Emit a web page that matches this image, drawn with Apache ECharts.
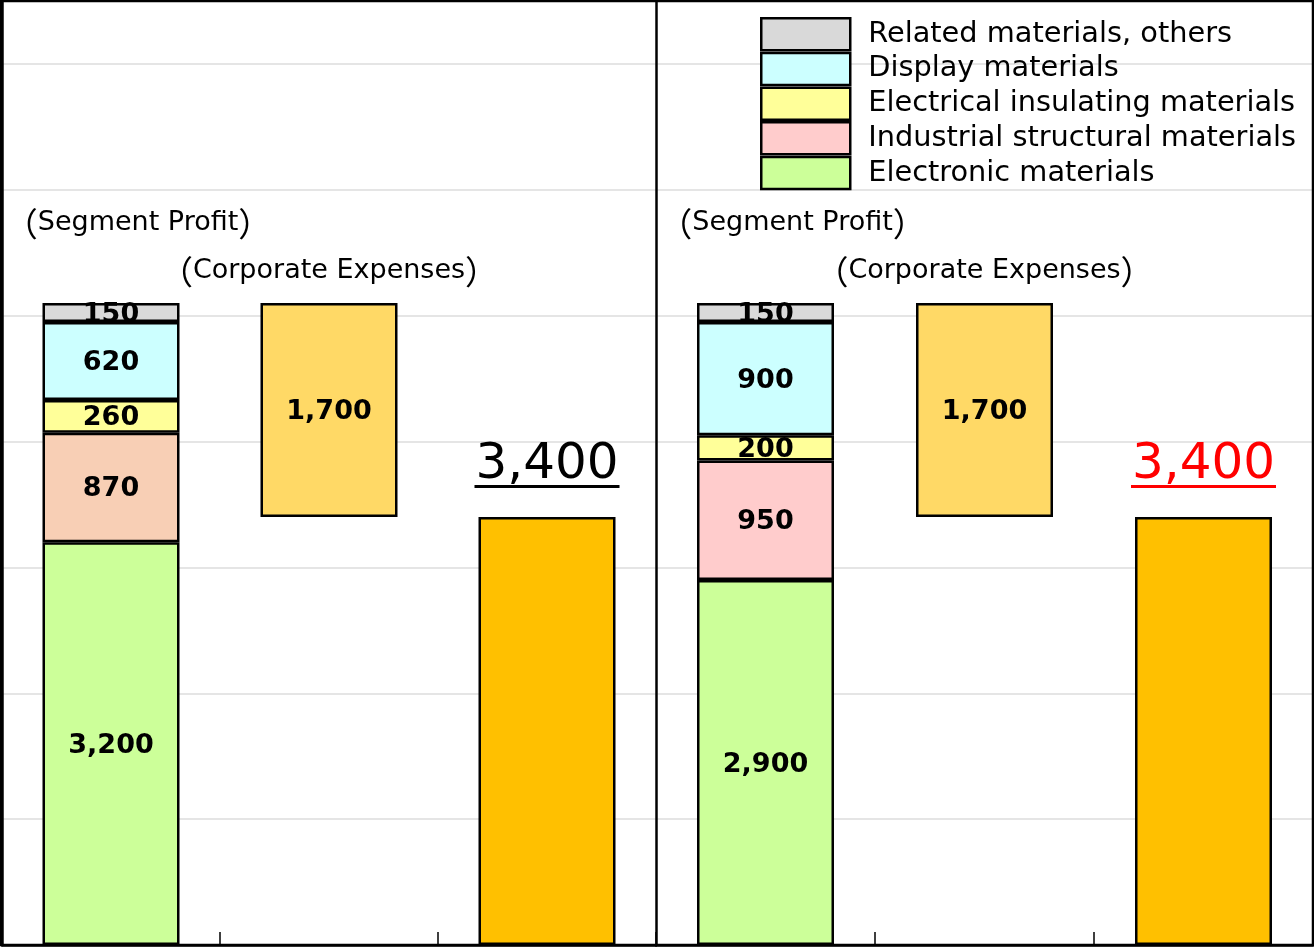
<!DOCTYPE html>
<html><head><meta charset="utf-8">
<script src="https://cdn.jsdelivr.net/npm/echarts@6/dist/echarts.min.js"></script>
<style>html,body{margin:0;padding:0;background:#fff}#c{width:1314px;height:947px}</style>
</head><body><div id="c"></div>
<script>
// ---- data ----
const categories = ['Segment Profit', 'Corporate Expenses', 'Operating Income'];
const segmentNames = ['Electronic materials', 'Industrial structural materials', 'Electrical insulating materials', 'Display materials', 'Related materials, others'];
const leftSegments = [3200, 870, 260, 620, 150];
const rightSegments = [2900, 950, 200, 900, 150];
const corporateExpenses = [1700, 1700];
const totals = [3400, 3400];
const segmentTitle = 'Segment Profit';
const corporateTitle = 'Corporate Expenses';
const yMax = 7500, yInterval = 1000;

// ---- styles ----
const segColors = ['#ccff99', '#ffcccc', '#ffff99', '#ccffff', '#d9d9d9'];
const leftIndustrialColor = '#f8cfb5';
const corpColor = '#ffd966';
const totalColor = '#ffc000';
const totalTextColors = ['#000000', '#ff0000'];
const FONT = "'DejaVu Sans', sans-serif";
const CJK = "'Noto Sans CJK JP', sans-serif";
const fmt = v => Number(v).toLocaleString('en-US');

const chart = echarts.init(document.getElementById('c'), null, {renderer: 'canvas'});

const grids = [
  {left: 2, top: 1, width: 654, bottom: 2, outerBoundsMode: 'none'},
  {left: 656, top: 1, right: 1, bottom: 2, outerBoundsMode: 'none'}
];
const xAxes = [0, 1].map(i => ({
  type: 'category', gridIndex: i, data: categories,
  axisLine: {lineStyle: {color: '#000', width: 2.5}},
  axisTick: {show: true, inside: true, length: 13, lineStyle: {color: '#000', width: 1.5}},
  axisLabel: {show: false}
}));
const yAxes = [0, 1].map(i => ({
  type: 'value', gridIndex: i, min: 0, max: yMax, interval: yInterval,
  axisLine: {show: true, lineStyle: {color: '#000', width: 2.5}},
  axisTick: {show: false}, axisLabel: {show: false},
  splitLine: {lineStyle: {color: '#dcdcdc', width: 1.5}}
}));

const numLabel = {show: true, position: 'inside', formatter: d => fmt(d.value), fontSize: 27, fontWeight: 'bold', color: '#000', fontFamily: FONT, offset: [0, 2]};
const border = {borderColor: '#000', borderWidth: 2.5};

const series = [];
[leftSegments, rightSegments].forEach((segs, p) => {
  segs.forEach((v, i) => {
    const item = {value: v};
    if (p === 0 && i === 1) item.itemStyle = {color: leftIndustrialColor};
    series.push({
      type: 'bar', name: segmentNames[i], xAxisIndex: p, yAxisIndex: p, stack: 's' + p,
      barWidth: 137,
      data: [item, '-', '-'],
      itemStyle: Object.assign({color: segColors[i]}, border),
      label: numLabel,
      emphasis: {disabled: true}
    });
  });
  series.push({
    type: 'bar', name: 'base' + p, xAxisIndex: p, yAxisIndex: p, stack: 's' + p, barWidth: 137,
    data: ['-', totals[p], '-'], itemStyle: {color: 'transparent'}, silent: true, emphasis: {disabled: true}
  });
  series.push({
    type: 'bar', name: 'Corporate Expenses', xAxisIndex: p, yAxisIndex: p, stack: 's' + p, barWidth: 137,
    data: ['-', corporateExpenses[p], '-'],
    itemStyle: Object.assign({color: corpColor}, border),
    label: numLabel,
    emphasis: {disabled: true}
  });
  series.push({
    type: 'bar', name: 'Total', xAxisIndex: p, yAxisIndex: p, stack: 's' + p, barWidth: 137,
    data: ['-', '-', totals[p]],
    itemStyle: Object.assign({color: totalColor}, border),
    label: {
      show: true, position: 'top', distance: 29,
      formatter: d => '{a|' + fmt(d.value) + '}\n{u|}',
      rich: {
        a: {fontSize: 50, lineHeight: 40, color: totalTextColors[p], fontFamily: FONT, align: 'center'},
        u: {width: 145, height: 3, lineHeight: 3, backgroundColor: totalTextColors[p], align: 'center'}
      }
    },
    emphasis: {disabled: true}
  });
});

chart.setOption({
  animation: false,
  backgroundColor: '#fff',
  textStyle: {fontFamily: FONT},
  grid: grids, xAxis: xAxes, yAxis: yAxes,
  legend: {
    orient: 'vertical', left: 760, top: 17, padding: 0,
    itemWidth: 89, itemHeight: 32, itemGap: 0.2,
    data: segmentNames.slice().reverse(),
    icon: 'rect',
    itemStyle: {borderColor: '#000', borderWidth: 2.5},
    textStyle: {fontSize: 28.8, color: '#000', fontFamily: FONT, lineHeight: 29, padding: [3, 0, 0, 13]},
    selectedMode: false
  },
  series: series
});

// titles anchored to axes
const graphics = [{
  type: 'rect', shape: {x: 1, y: 1, width: 1312, height: 944}, style: {fill: 'none', stroke: '#000', lineWidth: 2.5}, silent: true, z: 10
}];
const titleRich = {p: {fontFamily: CJK, fontSize: 33, fill: '#000'}};
[0, 1].forEach(p => {
  const a = chart.convertToPixel({gridIndex: p}, [0, leftSegments.reduce((s, v) => s + v, 0)]);
  const b = chart.convertToPixel({gridIndex: p}, [1, totals[p] + corporateExpenses[p]]);
  graphics.push({type: 'text', x: a[0] + 27, y: a[1] - 80, style: {text: '{p|（}' + segmentTitle + '{p|）}', rich: titleRich, fontFamily: FONT, fontSize: 27, fill: '#000', align: 'center', verticalAlign: 'middle'}, silent: true});
  graphics.push({type: 'text', x: b[0], y: b[1] - 32, style: {text: '{p|（}' + corporateTitle + '{p|）}', rich: titleRich, fontFamily: FONT, fontSize: 27, fill: '#000', align: 'center', verticalAlign: 'middle'}, silent: true});
});
chart.setOption({graphic: graphics});
</script>
</body></html>
